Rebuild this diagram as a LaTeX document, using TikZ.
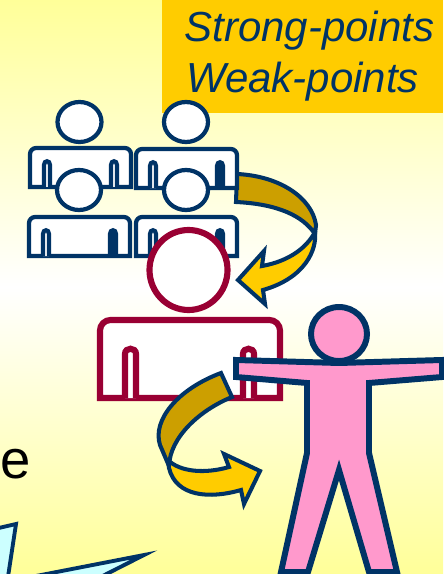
\documentclass[tikz,border=0pt]{standalone}
\usepackage{fontspec}
\setmainfont{Liberation Sans}
\definecolor{navyline}{HTML}{003366}
\definecolor{wineline}{HTML}{990033}
\definecolor{paleyellow}{HTML}{FFFF99}
\definecolor{boxorange}{HTML}{FFCC00}
\definecolor{arrowdark}{HTML}{CC9F00}
\definecolor{figurepink}{HTML}{FF99CC}
\definecolor{shardblue}{HTML}{CCFFFF}
\begin{document}
\begin{tikzpicture}[x=0.02cm, y=-0.02cm,
    every node/.style={inner sep=0pt, anchor=base west},
    pointtext/.style={font=\itshape\fontsize{23.9}{26}\selectfont, text=navyline},
    arrowpart/.style={draw=navyline, line width=2.3pt, line join=miter},
    smallman/.style={draw=navyline, line width=2.4pt, fill=white},
    bigman/.style={draw=wineline, line width=3.5pt, fill=white}]
  \useasboundingbox (0,0) rectangle (443,574);
  % background
  \shade[top color=paleyellow, bottom color=paleyellow, middle color=white]
    (0,0) rectangle (443,574);
  \fill[boxorange] (162,0) rectangle (443,113);
  \node[pointtext] (strongtext) at (184,42) {Strong-points};
  \node[pointtext] (weaktext) at (186,93) {Weak-points};
  \node[font=\fontsize{31}{34}\selectfont] (cuttext) at (0,478) {e};
  % shards at the bottom
  \begin{scope}
    \clip (0,0) rectangle (443,574);
    \draw[fill=shardblue, draw=navyline, line width=2.2pt, miter limit=20]
      (-10,530) -- (16,524) -- (6,590) -- (-10,590) -- cycle;
    \draw[fill=shardblue, draw=navyline, line width=2.2pt, miter limit=20]
      (0,583) -- (144,555) -- (75,590) -- cycle;
  \end{scope}
  % first arrow, behind the group
  \draw[arrowpart, fill=boxorange]
    (315,232) .. controls (317,250) and (305,278) .. (263,290)
    -- (265,304) -- (238,280) -- (264,251) -- (262,266)
    .. controls (290,261) and (307,247) .. (315,232) -- cycle;
  \draw[arrowpart, fill=arrowdark]
    (237,174) .. controls (280,176) and (312,198) .. (316,225)
    -- (315,234) .. controls (303,216) and (278,204) .. (236,202) -- cycle;
  % group of four
  \foreach \x/\y/\hx/\hy/\lf/\rf in {30/148/79.5/122/white/white, 136/149/186/122/white/navyline,
      29/217/79/190/white/navyline, 136/217/186/190/white/navyline}
    {
      \draw[smallman, rounded corners=3.5pt] (\x,\y+39) -- (\x,\y) -- (\x+101,\y) -- (\x+101,\y+20)
        [sharp corners] -- (\x+101,\y+39) -- cycle;
      \draw[smallman, fill=\lf] (\x+14,\y+39) -- (\x+14,\y+17) .. controls (\x+14,\y+12) and (\x+20,\y+12) .. (\x+20,\y+17) -- (\x+20,\y+39);
      \draw[smallman, fill=\rf] (\x+81,\y+39) -- (\x+81,\y+17) .. controls (\x+81,\y+12) and (\x+87,\y+12) .. (\x+87,\y+17) -- (\x+87,\y+39);
      \draw[smallman] (\hx,\hy) circle[x radius=22, y radius=20];
    }
  % teacher
  \draw[bigman, rounded corners=6pt] (100,398) -- (100,320) -- (280,320) -- (280,360)
    [sharp corners] -- (280,398) -- cycle;
  \foreach \x in {125,243}
    \draw[bigman] (\x,398) -- (\x,354) .. controls (\x,347) and (\x+11,347) .. (\x+11,354) -- (\x+11,398);
  \draw[bigman] (188.5,270) circle[x radius=39, y radius=40];
  % second arrow
  \draw[arrowpart, fill=boxorange]
    (168,460) .. controls (180,472) and (205,474) .. (229,467)
    -- (224,454) -- (260,471) -- (244,504) -- (241,490)
    .. controls (210,499) and (176,497) .. (169,468) -- cycle;
  \draw[arrowpart, fill=arrowdark]
    (221,373) -- (232,397) .. controls (200,410) and (170,437) .. (169,466)
    -- (160,445) .. controls (152,420) and (178,389) .. (221,373) -- cycle;
  % figure with open arms
  \draw[draw=navyline, fill=figurepink, line width=3.4pt, line join=miter]
    (236,360) -- (339,363) -- (442,360) -- (442,377) -- (369,383) -- (369,453)
    -- (397,572) -- (369,572) -- (339,470) -- (308,572) -- (281,572) -- (307,453)
    -- (307,383) -- (236,377) -- cycle;
  \draw[draw=navyline, fill=figurepink, line width=3.4pt] (339,334) circle[x radius=28, y radius=27];
\end{tikzpicture}
\end{document}
